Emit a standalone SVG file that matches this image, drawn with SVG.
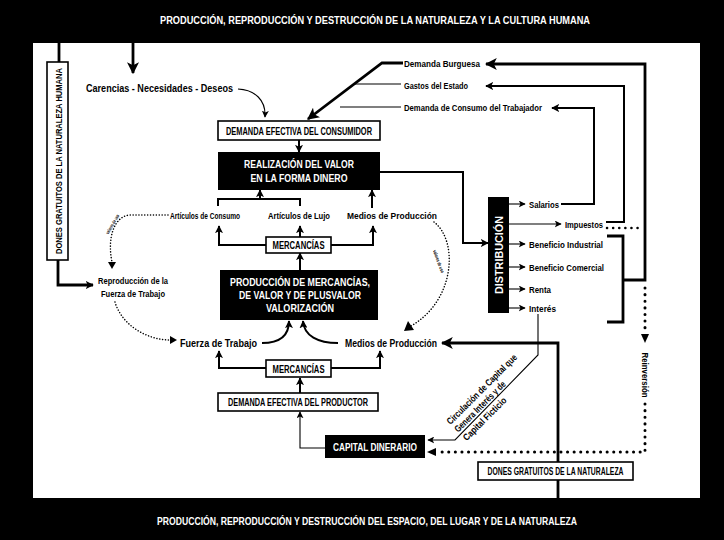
<svg xmlns="http://www.w3.org/2000/svg" width="724" height="540" viewBox="0 0 724 540">
<style>
.t{font-family:"Liberation Sans",Arial,sans-serif;font-weight:bold;fill:#000}
.w{fill:#fff}
.m{text-anchor:middle}
.box{fill:#fff;stroke:#000;stroke-width:1.6}
.blk{fill:#000}
.ln{fill:none;stroke:#000;stroke-width:2}
.tk{fill:none;stroke:#000;stroke-width:2.8}
.thin{fill:none;stroke:#000;stroke-width:1.1}
.dot{fill:none;stroke:#000;stroke-width:1.5;stroke-dasharray:0.1 2.8;stroke-linecap:round}
.bdot{fill:none;stroke:#000;stroke-width:3;stroke-dasharray:0.1 6.5;stroke-linecap:round}
</style>
<defs>
<marker id="a" viewBox="0 0 10 10" refX="9" refY="5" markerWidth="8" markerHeight="8" markerUnits="userSpaceOnUse" orient="auto"><path d="M0,0 L10,5 L0,10 L2.5,5 z"/></marker>
<marker id="aL" viewBox="0 0 10 10" refX="9" refY="5" markerWidth="12" markerHeight="12" markerUnits="userSpaceOnUse" orient="auto"><path d="M0,0 L10,5 L0,10 L2.5,5 z"/></marker>
<marker id="aS" viewBox="0 0 10 10" refX="9" refY="5" markerWidth="7" markerHeight="7" markerUnits="userSpaceOnUse" orient="auto"><path d="M0,0 L10,5 L0,10 L2.5,5 z"/></marker>
</defs>
<rect x="0" y="0" width="724" height="540" fill="#000"/>
<rect x="33" y="43" width="667" height="455" fill="#fff"/>
<text class="t w m" x="375" y="24" font-size="11" textLength="430" lengthAdjust="spacingAndGlyphs">PRODUCCIÓN, REPRODUCCIÓN Y DESTRUCCIÓN DE LA NATURALEZA Y LA CULTURA  HUMANA</text>
<text class="t w m" x="367" y="525" font-size="11" textLength="420" lengthAdjust="spacingAndGlyphs">PRODUCCIÓN, REPRODUCCIÓN Y DESTRUCCIÓN DEL ESPACIO, DEL LUGAR Y DE LA NATURALEZA</text>

<g id="connectors">
<path class="tk" d="M59 42 V62"/>
<path class="tk" d="M133 42 V73" marker-end="url(#aL)"/>
<path class="tk" d="M58 260 V285 H93" marker-end="url(#a)"/>
<path class="thin" d="M238 89 C255 90 266 100 265 117" marker-end="url(#aS)"/>
<path class="tk" d="M403 63 H382 L308 119" marker-end="url(#aL)"/>
<path class="thin" d="M401 84 H355"/>
<path class="thin" d="M401 107 H340"/>
<path class="ln" d="M299 140 V152" marker-end="url(#a)"/>
<path class="ln" d="M218 206 V199 H300 V206"/>
<path class="ln" d="M260 199 V190" marker-end="url(#a)"/>
<path class="ln" d="M372 208 V190" marker-end="url(#a)"/>
<path class="ln" d="M266 245 H219 V226" marker-end="url(#a)"/>
<path class="ln" d="M331 245 H373 V226" marker-end="url(#a)"/>
<path class="ln" d="M300 237 V226" marker-end="url(#a)"/>
<path class="ln" d="M300 270 V253" marker-end="url(#a)"/>
<path class="ln" d="M262 343 C280 343 289 336 289 321" marker-end="url(#a)"/>
<path class="ln" d="M338 343 C318 343 304 336 303 321" marker-end="url(#a)"/>
<path class="ln" d="M266 368 H219 V351" marker-end="url(#a)"/>
<path class="ln" d="M331 368 H380 V351" marker-end="url(#a)"/>
<path class="ln" d="M300 393 V378" marker-end="url(#a)"/>
<path class="thin" d="M325 448 H300 V412" marker-end="url(#aS)"/>
<path class="tk" d="M558 498 V480"/>
<path class="tk" d="M558 462 V343 H442" marker-end="url(#aL)"/>
<path class="thin" d="M538 314 V355 L455 440 H428" marker-end="url(#aS)"/>
<path class="ln" d="M380 172 H463 V243 H488" marker-end="url(#a)"/>
<path class="thin" d="M509 204 H525" marker-end="url(#aS)"/>
<path class="thin" d="M509 224 H561" marker-end="url(#aS)"/>
<path class="thin" d="M509 244 H525" marker-end="url(#aS)"/>
<path class="thin" d="M509 267 H525" marker-end="url(#aS)"/>
<path class="thin" d="M509 289 H525" marker-end="url(#aS)"/>
<path class="thin" d="M509 308 H525" marker-end="url(#aS)"/>
<path class="ln" d="M561 204 H594 V108 H552" marker-end="url(#a)"/>
<path class="ln" d="M606 222 H624 V86 H486" marker-end="url(#a)"/>
<path class="tk" d="M607 236 H623 V322 H607"/>
<path class="tk" d="M623 280 H645 V64 H486" marker-end="url(#aL)"/>
<path class="dot" style="stroke-width:2.5;stroke-dasharray:0.1 6" d="M607 228 H642"/>
<path class="bdot" d="M645 288 V334"/>
<path d="M641 334 L649 334 L645 343 z"/>
<path class="bdot" d="M645 404 V452 H436"/>
<path d="M436 448 L436 456 L427 452 z"/>
<path class="dot" d="M168 215 H130 C114 216 107 238 112 262"/>
<path d="M108 262 L116 262 L112 269 z"/>
<path class="dot" d="M115 302 C122 326 148 340 170 340"/>
<path d="M170 336 L170 344 L177 340 z"/>
<path class="dot" d="M434 222 C458 240 456 300 411 326"/>
<path d="M408 321 L414 330 L404 331 z"/>
</g>

<g id="dones-humana">
<rect class="box" x="47" y="62" width="21" height="198"/>
<text class="t m" transform="translate(61.5,161) rotate(-90)" font-size="9.5" textLength="186" lengthAdjust="spacingAndGlyphs">DONES GRATUITOS DE LA NATURALEZA HUMANA</text>
</g>
<g id="carencias">
<text class="t m" x="159.5" y="92" font-size="10" textLength="147" lengthAdjust="spacingAndGlyphs">Carencias - Necesidades - Deseos</text>
</g>
<g id="demanda-consumidor">
<rect class="box" x="218" y="121" width="162" height="19"/>
<text class="t m" x="299" y="135" font-size="10" textLength="146" lengthAdjust="spacingAndGlyphs">DEMANDA EFECTIVA DEL CONSUMIDOR</text>
</g>
<g id="realizacion">
<rect class="blk" x="218" y="152" width="162" height="38"/>
<text class="t w m" x="299" y="168" font-size="10.5" textLength="110" lengthAdjust="spacingAndGlyphs">REALIZACIÓN DEL VALOR</text>
<text class="t w m" x="299" y="182" font-size="10.5" textLength="97" lengthAdjust="spacingAndGlyphs">EN LA FORMA DINERO</text>
</g>
<g id="articulos-consumo"><text class="t m" x="205" y="219" font-size="8.5" textLength="70" lengthAdjust="spacingAndGlyphs">Artículos de Consumo</text></g>
<g id="articulos-lujo"><text class="t m" x="299" y="219" font-size="8.5" textLength="62" lengthAdjust="spacingAndGlyphs">Artículos de Lujo</text></g>
<g id="medios-1"><text class="t m" x="392" y="219" font-size="8.5" textLength="90" lengthAdjust="spacingAndGlyphs">Medios de Producción</text></g>
<g id="valores-uso-1"><text class="t m" transform="translate(114,225) rotate(-60)" font-size="5" textLength="22" lengthAdjust="spacingAndGlyphs">valores de uso</text></g>
<g id="valores-uso-2"><text class="t m" transform="translate(437,262) rotate(70)" font-size="5" textLength="24" lengthAdjust="spacingAndGlyphs">valores de uso</text></g>
<g id="mercancias-1">
<rect class="box" x="266" y="237" width="65" height="16"/>
<text class="t m" x="298.5" y="249" font-size="10" textLength="52" lengthAdjust="spacingAndGlyphs">MERCANCÍAS</text>
</g>
<g id="produccion">
<rect class="blk" x="220" y="270" width="158" height="50"/>
<text class="t w m" x="300" y="286" font-size="11" textLength="140" lengthAdjust="spacingAndGlyphs">PRODUCCIÓN DE MERCANCÍAS,</text>
<text class="t w m" x="300" y="299" font-size="11" textLength="122" lengthAdjust="spacingAndGlyphs">DE VALOR Y DE PLUSVALOR</text>
<text class="t w m" x="300" y="312" font-size="11" textLength="68" lengthAdjust="spacingAndGlyphs">VALORIZACIÓN</text>
</g>
<g id="reproduccion">
<text class="t m" x="133" y="284" font-size="9.5" textLength="70" lengthAdjust="spacingAndGlyphs">Reproducción de la</text>
<text class="t m" x="133" y="297" font-size="9.5" textLength="64" lengthAdjust="spacingAndGlyphs">Fuerza de Trabajo</text>
</g>
<g id="fuerza"><text class="t m" x="218.5" y="347" font-size="11" textLength="77" lengthAdjust="spacingAndGlyphs">Fuerza de Trabajo</text></g>
<g id="medios-2"><text class="t m" x="391" y="347" font-size="11" textLength="92" lengthAdjust="spacingAndGlyphs">Medios de Producción</text></g>
<g id="mercancias-2">
<rect class="box" x="266" y="360" width="65" height="17"/>
<text class="t m" x="298.5" y="373" font-size="10" textLength="52" lengthAdjust="spacingAndGlyphs">MERCANCÍAS</text>
</g>
<g id="demanda-productor">
<rect class="box" x="218" y="393" width="160" height="18"/>
<text class="t m" x="298" y="406" font-size="10" textLength="140" lengthAdjust="spacingAndGlyphs">DEMANDA EFECTIVA DEL PRODUCTOR</text>
</g>
<g id="capital-dinerario">
<rect class="blk" x="325" y="435" width="100" height="23"/>
<text class="t w m" x="375" y="451" font-size="10.5" textLength="84" lengthAdjust="spacingAndGlyphs">CAPITAL DINERARIO</text>
</g>
<g id="dones-naturaleza">
<rect class="box" x="478" y="462" width="155" height="18"/>
<text class="t m" x="555.5" y="475" font-size="10" textLength="136" lengthAdjust="spacingAndGlyphs">DONES GRATUITOS DE LA NATURALEZA</text>
</g>
<g id="demandas">
<text class="t" x="404" y="67" font-size="9.5" textLength="76" lengthAdjust="spacingAndGlyphs">Demanda Burguesa</text>
<text class="t" x="404" y="89" font-size="9.5" textLength="64" lengthAdjust="spacingAndGlyphs">Gastos del Estado</text>
<text class="t" x="404" y="111" font-size="9.5" textLength="138" lengthAdjust="spacingAndGlyphs">Demanda de Consumo del Trabajador</text>
</g>
<g id="distribucion">
<rect class="blk" x="488" y="197" width="21" height="116"/>
<text class="t w m" transform="translate(502.5,255) rotate(-90)" font-size="10.5" textLength="78" lengthAdjust="spacingAndGlyphs">DISTRIBUCIÓN</text>
</g>
<g id="ingresos">
<text class="t" x="529" y="208" font-size="9.5" textLength="30" lengthAdjust="spacingAndGlyphs">Salarios</text>
<text class="t" x="565" y="228" font-size="9.5" textLength="38" lengthAdjust="spacingAndGlyphs">Impuestos</text>
<text class="t" x="529" y="248" font-size="9.5" textLength="74" lengthAdjust="spacingAndGlyphs">Beneficio Industrial</text>
<text class="t" x="529" y="271" font-size="9.5" textLength="75" lengthAdjust="spacingAndGlyphs">Beneficio Comercial</text>
<text class="t" x="529" y="293" font-size="9.5" textLength="22" lengthAdjust="spacingAndGlyphs">Renta</text>
<text class="t" x="529" y="312" font-size="9.5" textLength="27" lengthAdjust="spacingAndGlyphs">Interés</text>
</g>
<g id="reinversion"><text class="t m" transform="translate(641.5,375) rotate(90)" font-size="9.5" textLength="45" lengthAdjust="spacingAndGlyphs">Reinversión</text></g>
<g id="circulacion" transform="translate(496.5,397.5) rotate(-45)">
<text class="t" x="-52" y="-13" font-size="9.5" textLength="95" lengthAdjust="spacingAndGlyphs">Circulación de Capital que</text>
<text class="t" x="-52" y="-2" font-size="9.5" textLength="68" lengthAdjust="spacingAndGlyphs">Genera Interés y de</text>
<text class="t" x="-52" y="10" font-size="9.5" textLength="57" lengthAdjust="spacingAndGlyphs">Capital Ficticio</text>
</g>
</svg>
